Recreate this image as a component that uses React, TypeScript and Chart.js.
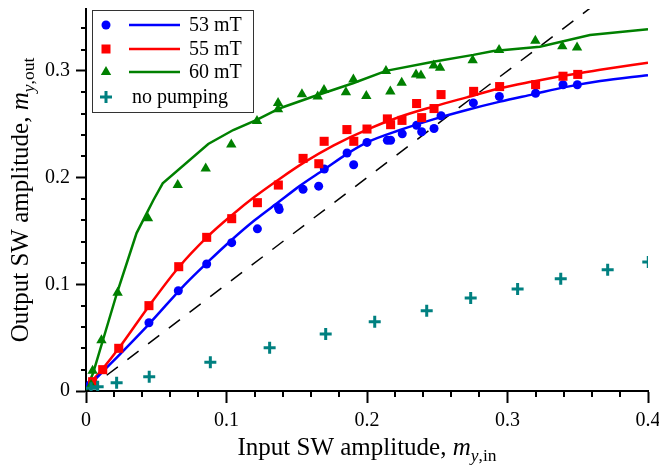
import React, { useEffect, useRef } from 'react';
import { Chart, registerables } from 'chart.js';

Chart.register(...registerables);

// Axis ranges and tick values
const xMin = 0;
const xMax = 0.4;
const yMin = 0;
const yMax = 0.358;
const xMajorTicks = [0, 0.1, 0.2, 0.3, 0.4];
const yMajorTicks = [0, 0.1, 0.2, 0.3];
const minorStep = 0.02;

// 53 mT measured points
const m53X = [0.003, 0.0448, 0.0657, 0.0859, 0.1037, 0.122, 0.137, 0.1375, 0.1545, 0.1656, 0.1696, 0.1858, 0.1905, 0.2, 0.2145, 0.2168, 0.2251, 0.2353, 0.2389, 0.2477, 0.2527, 0.2757, 0.2942, 0.32, 0.3395, 0.3497];
const m53Y = [0.006, 0.064, 0.094, 0.119, 0.139, 0.152, 0.172, 0.17, 0.189, 0.192, 0.208, 0.223, 0.212, 0.233, 0.235, 0.235, 0.241, 0.249, 0.243, 0.246, 0.258, 0.27, 0.276, 0.279, 0.287, 0.287];

// 55 mT measured points
const m55X = [0.0047, 0.0119, 0.0233, 0.0448, 0.066, 0.0859, 0.1037, 0.122, 0.1369, 0.1545, 0.1657, 0.1695, 0.1857, 0.1906, 0.2, 0.2145, 0.2168, 0.2249, 0.2353, 0.2389, 0.2477, 0.2527, 0.2759, 0.2944, 0.32, 0.3395, 0.35];
const m55Y = [0.0087, 0.02, 0.04, 0.08, 0.1165, 0.144, 0.1615, 0.1765, 0.193, 0.218, 0.213, 0.234, 0.245, 0.234, 0.2455, 0.255, 0.2496, 0.2536, 0.2694, 0.2562, 0.2647, 0.2778, 0.2808, 0.2853, 0.2871, 0.295, 0.2967];

// 60 mT measured points
const m60X = [0.0036, 0.0047, 0.011, 0.0225, 0.0441, 0.0653, 0.0852, 0.1034, 0.1217, 0.1367, 0.1367, 0.1537, 0.1649, 0.1694, 0.185, 0.1903, 0.1995, 0.2135, 0.2166, 0.2247, 0.2349, 0.2384, 0.2475, 0.252, 0.2752, 0.294, 0.3198, 0.339, 0.3495];
const m60Y = [0.0056, 0.019, 0.0475, 0.092, 0.162, 0.193, 0.2086, 0.231, 0.253, 0.264, 0.27, 0.278, 0.276, 0.282, 0.28, 0.292, 0.2765, 0.3, 0.2806, 0.289, 0.2966, 0.2957, 0.305, 0.303, 0.31, 0.3196, 0.3283, 0.323, 0.322];

// no pumping points
const npX = [0.0036, 0.0083, 0.0218, 0.045, 0.0885, 0.1307, 0.1706, 0.2055, 0.2425, 0.2738, 0.3072, 0.3379, 0.3713, 0.4002];
const npY = [0.0025, 0.004, 0.0078, 0.0134, 0.0269, 0.0406, 0.0534, 0.065, 0.0752, 0.0872, 0.0956, 0.1052, 0.1137, 0.121];

// fitted curves
const f53X = [0.003, 0.045, 0.0705, 0.086, 0.104, 0.12, 0.138, 0.152, 0.17, 0.1855, 0.2, 0.2235, 0.2472, 0.271, 0.2947, 0.318, 0.342, 0.366, 0.4];
const f53Y = [0.006, 0.063, 0.1, 0.12, 0.142, 0.16, 0.178, 0.192, 0.208, 0.222, 0.233, 0.2446, 0.2546, 0.2634, 0.2712, 0.278, 0.285, 0.2905, 0.296];
const f55X = [0.002, 0.012, 0.0233, 0.045, 0.066, 0.086, 0.104, 0.12, 0.138, 0.155, 0.176, 0.2, 0.2235, 0.2472, 0.271, 0.2947, 0.318, 0.342, 0.366, 0.4];
const f55Y = [0.006, 0.021, 0.04, 0.08, 0.116, 0.144, 0.165, 0.182, 0.199, 0.214, 0.23, 0.245, 0.257, 0.2665, 0.2752, 0.2837, 0.29, 0.296, 0.301, 0.3077];
const f60X = [0, 0.005, 0.022, 0.036, 0.048, 0.0546, 0.087, 0.1048, 0.1215, 0.138, 0.1618, 0.19, 0.2135, 0.2472, 0.2757, 0.29, 0.323, 0.3587, 0.4];
const f60Y = [0.001, 0.0166, 0.0916, 0.148, 0.179, 0.1946, 0.2315, 0.2446, 0.254, 0.265, 0.276, 0.2884, 0.3, 0.3086, 0.315, 0.3187, 0.3227, 0.3336, 0.339];

// reference line y = x
const refX = [0, 0.36];
const refY = [0, 0.36];

const legendLabels = ['53 mT', '55 mT', '60 mT', 'no pumping'];
const BLUE = '#0000ff';
const RED = '#ff0000';
const GREEN = '#008000';
const TEAL = '#008080';
const FONT = '"Liberation Serif", "Times New Roman", serif';

const zip = (xs: number[], ys: number[]) => xs.map((x, i) => ({ x, y: ys[i] }));

const minorTicksPlugin = {
  id: 'minorTicks',
  afterDraw(chart: any) {
    const ctx = chart.ctx;
    const xs = chart.scales.x;
    const ys = chart.scales.y;
    const area = chart.chartArea;
    ctx.save();
    ctx.strokeStyle = '#000';
    ctx.lineWidth = 2;
    for (let i = 0; i * minorStep <= xMax + 1e-9; i++) {
      if (i % 5 === 0) continue;
      const px = Math.round(xs.getPixelForValue(i * minorStep));
      ctx.beginPath();
      ctx.moveTo(px, area.bottom);
      ctx.lineTo(px, area.bottom + 6);
      ctx.stroke();
    }
    for (let i = 0; i * minorStep <= yMax + 1e-9; i++) {
      if (i % 5 === 0) continue;
      const py = Math.round(ys.getPixelForValue(i * minorStep));
      ctx.beginPath();
      ctx.moveTo(area.left - 5, py);
      ctx.lineTo(area.left, py);
      ctx.stroke();
    }
    ctx.restore();
  },
};

function drawTitle(ctx: CanvasRenderingContext2D, main: string, sub1: string, sub2: string, cx: number, baseline: number) {
  const big = 25;
  const small = 17.5;
  ctx.font = `${big}px ${FONT}`;
  const w1 = ctx.measureText(main).width;
  ctx.font = `italic ${big}px ${FONT}`;
  const w2 = ctx.measureText('m').width;
  ctx.font = `italic ${small}px ${FONT}`;
  const w3 = ctx.measureText(sub1).width;
  ctx.font = `${small}px ${FONT}`;
  const w4 = ctx.measureText(sub2).width;
  const total = w1 + w2 + w3 + w4;
  let x = cx - total / 2;
  ctx.textAlign = 'left';
  ctx.textBaseline = 'alphabetic';
  ctx.fillStyle = '#000';
  ctx.font = `${big}px ${FONT}`;
  ctx.fillText(main, x, baseline);
  x += w1;
  ctx.font = `italic ${big}px ${FONT}`;
  ctx.fillText('m', x, baseline);
  x += w2;
  ctx.font = `italic ${small}px ${FONT}`;
  ctx.fillText(sub1, x, baseline + 6);
  x += w3;
  ctx.font = `${small}px ${FONT}`;
  ctx.fillText(sub2, x, baseline + 6);
}

const titlesPlugin = {
  id: 'axisTitles',
  afterDraw(chart: any) {
    const ctx = chart.ctx as CanvasRenderingContext2D;
    const area = chart.chartArea;
    ctx.save();
    drawTitle(ctx, 'Input SW amplitude, ', 'y', ',in', (area.left + area.right) / 2, 455);
    ctx.restore();
    ctx.save();
    ctx.translate(28, (area.top + area.bottom) / 2);
    ctx.rotate(-Math.PI / 2);
    drawTitle(ctx, 'Output SW amplitude, ', 'y', ',out', 0, 0);
    ctx.restore();
  },
};

const legendPlugin = {
  id: 'boxLegend',
  afterDraw(chart: any) {
    const ctx = chart.ctx as CanvasRenderingContext2D;
    ctx.save();
    ctx.fillStyle = '#fff';
    ctx.fillRect(92.5, 10.5, 161, 102);
    ctx.strokeStyle = '#333';
    ctx.lineWidth = 1;
    ctx.strokeRect(92.5, 10.5, 161, 102);
    const rows = [25, 49, 72, 97];
    const mx = 106;
    // circle
    ctx.fillStyle = BLUE;
    ctx.beginPath();
    ctx.arc(mx, rows[0], 4.5, 0, Math.PI * 2);
    ctx.fill();
    // square
    ctx.fillStyle = RED;
    ctx.fillRect(mx - 4.5, rows[1] - 4.5, 9, 9);
    // triangle
    ctx.fillStyle = GREEN;
    ctx.beginPath();
    ctx.moveTo(mx, rows[2] - 6);
    ctx.lineTo(mx + 5.2, rows[2] + 3);
    ctx.lineTo(mx - 5.2, rows[2] + 3);
    ctx.closePath();
    ctx.fill();
    // cross
    ctx.strokeStyle = TEAL;
    ctx.lineWidth = 3;
    ctx.beginPath();
    ctx.moveTo(mx - 6, rows[3]);
    ctx.lineTo(mx + 6, rows[3]);
    ctx.moveTo(mx, rows[3] - 6);
    ctx.lineTo(mx, rows[3] + 6);
    ctx.stroke();
    // lines
    const lineColors = [BLUE, RED, GREEN];
    ctx.lineWidth = 2.5;
    lineColors.forEach((c, i) => {
      ctx.strokeStyle = c;
      ctx.beginPath();
      ctx.moveTo(129, rows[i]);
      ctx.lineTo(180, rows[i]);
      ctx.stroke();
    });
    ctx.fillStyle = '#000';
    ctx.font = `20px ${FONT}`;
    ctx.textBaseline = 'middle';
    ctx.textAlign = 'left';
    for (let i = 0; i < 3; i++) ctx.fillText(legendLabels[i], 189, rows[i] + 1);
    ctx.fillText(legendLabels[3], 132, rows[3] + 1);
    ctx.restore();
  },
};

export default function App() {
  const ref = useRef<HTMLCanvasElement | null>(null);
  useEffect(() => {
    document.body.style.margin = '0';
    if (!ref.current) return;
    const chart = new Chart(ref.current, {
      type: 'scatter',
      data: {
        datasets: [
          { label: legendLabels[3], data: zip(npX, npY), pointStyle: 'cross', pointRadius: 6, borderColor: TEAL, backgroundColor: TEAL, pointBorderWidth: 3, showLine: false },
          { label: legendLabels[2], data: zip(m60X, m60Y), pointStyle: 'triangle', pointRadius: 6, borderColor: GREEN, backgroundColor: GREEN, pointBorderWidth: 0, showLine: false },
          { label: legendLabels[1], data: zip(m55X, m55Y), pointStyle: 'rect', pointRadius: 6.4, borderColor: RED, backgroundColor: RED, pointBorderWidth: 0, showLine: false },
          { label: legendLabels[0], data: zip(m53X, m53Y), pointStyle: 'circle', pointRadius: 4.5, borderColor: BLUE, backgroundColor: BLUE, pointBorderWidth: 0, showLine: false },
          { label: 'fit 53', data: zip(f53X, f53Y), showLine: true, borderColor: BLUE, borderWidth: 2.5, pointRadius: 0, cubicInterpolationMode: 'monotone' },
          { label: 'fit 55', data: zip(f55X, f55Y), showLine: true, borderColor: RED, borderWidth: 2.5, pointRadius: 0, cubicInterpolationMode: 'monotone' },
          { label: 'fit 60', data: zip(f60X, f60Y), showLine: true, borderColor: GREEN, borderWidth: 2.5, pointRadius: 0, tension: 0 },
          { label: 'y = x', data: zip(refX, refY), showLine: true, borderColor: '#000', borderWidth: 1.5, borderDash: [14, 12], pointRadius: 0 },
        ] as any,
      },
      options: {
        animation: false,
        responsive: false,
        layout: { padding: { top: 9, right: 11, left: 0, bottom: 0 } },
        plugins: { legend: { display: false }, tooltip: { enabled: false } },
        scales: {
          x: {
            type: 'linear',
            min: xMin,
            max: xMax,
            border: { display: true, color: '#000', width: 2 },
            grid: { display: true, drawOnChartArea: false, drawTicks: true, tickLength: 12, tickWidth: 2, tickColor: '#000' },
            ticks: {
              stepSize: 0.1,
              includeBounds: false,
              padding: 6,
              color: '#000',
              font: { family: FONT, size: 20 },
              maxRotation: 0,
              callback: (v: any) => (Math.abs(v) < 1e-9 ? '0' : Number(v).toFixed(1)),
            },
            afterFit: (s: any) => { s.height = 79; s.paddingRight = 11; s.paddingLeft = 0; },
          },
          y: {
            type: 'linear',
            min: yMin,
            max: yMax,
            border: { display: true, color: '#000', width: 2 },
            grid: { display: true, drawOnChartArea: false, drawTicks: true, tickLength: 10, tickWidth: 2, tickColor: '#000' },
            ticks: {
              stepSize: 0.1,
              includeBounds: false,
              padding: 6,
              color: '#000',
              font: { family: FONT, size: 20 },
              callback: (v: any) => (Math.abs(v) < 1e-9 ? '0' : Number(v).toFixed(1)),
            },
            afterFit: (s: any) => { s.width = 86; s.paddingTop = 0; s.paddingBottom = 0; },
          },
        },
      } as any,
      plugins: [minorTicksPlugin, titlesPlugin, legendPlugin],
    });
    return () => chart.destroy();
  }, []);
  return (
    <div style={{ width: 659, height: 470, background: '#fff' }}>
      <canvas ref={ref} width={659} height={470} />
    </div>
  );
}
